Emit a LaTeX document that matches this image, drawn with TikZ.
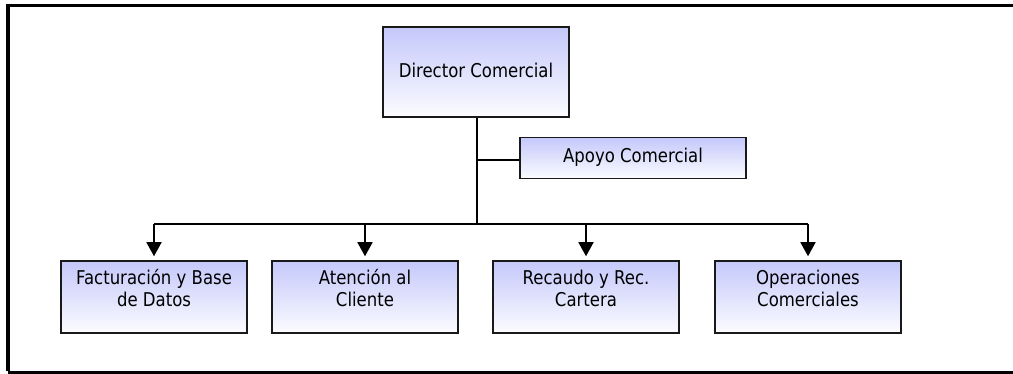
\documentclass[tikz,border=0pt]{standalone}
\usepackage{fontspec}
\setmainfont{DejaVu Sans}[FakeStretch=0.87]
\usetikzlibrary{arrows.meta}
\definecolor{boxtop}{RGB}{196,200,250}
\definecolor{boxbot}{RGB}{252,252,255}
\begin{document}
\begin{tikzpicture}[x=1pt,y=-1pt,
  orgbox/.style={draw=black!90, line width=1.5pt, top color=boxtop,
    bottom color=boxbot, inner sep=0pt},
  lbl/.style={font=\fontsize{19}{22}\selectfont, align=center,
    inner sep=0pt, anchor=base},
  link/.style={line width=1.6pt},
  down/.style={link, -{Triangle[width=15pt,length=14pt]}}]
  \useasboundingbox (0,0) rectangle (1013,374);
  \clip (0,0) rectangle (1013,374);

  % outer frame
  \fill[white] (0,0) rectangle (1013,374);
  \draw[line width=3.4pt] (6,5.6) -- (1013,5.6);
  \draw[line width=4pt] (8,4) -- (8,371);
  \draw[line width=3.2pt] (8,372.6) -- (1013,372.6);

  % boxes
  \node[orgbox, minimum width=186pt, minimum height=90pt] (dir) at (476,72) {};
  \node[orgbox, minimum width=226pt, minimum height=41pt] (apo) at (633,158) {};
  \node[orgbox, minimum width=186pt, minimum height=72pt] (fac) at (154,297) {};
  \node[orgbox, minimum width=186pt, minimum height=72pt] (ate) at (365,297) {};
  \node[orgbox, minimum width=186pt, minimum height=72pt] (rec) at (586,297) {};
  \node[orgbox, minimum width=186pt, minimum height=72pt] (ope) at (808,297) {};

  % labels (two-line labels are placed by the baseline of their last line)
  \node[lbl] (tdir) at (476,78) {Director Comercial};
  \node[lbl] (tapo) at (633,163) {Apoyo Comercial};
  \node[lbl] (tfac) at (154,307) {Facturación y Base\\de Datos};
  \node[lbl] (tate) at (365,307) {Atención al\\Cliente};
  \node[lbl] (trec) at (586,307) {Recaudo y Rec.\\Cartera};
  \node[lbl] (tope) at (808,307) {Operaciones\\Comerciales};

  % connectors
  \coordinate (bus) at (477,224);
  \draw[link] (dir.south -| bus) -- (bus);
  \draw[link] (apo.west |- 0,160) -- (477,160);
  \draw[link] (fac.north |- bus) -- (ope.north |- bus);
  \draw[down] (fac.north |- bus) -- ([yshift=4pt]fac.north);
  \draw[down] (ate.north |- bus) -- ([yshift=4pt]ate.north);
  \draw[down] (rec.north |- bus) -- ([yshift=4pt]rec.north);
  \draw[down] (ope.north |- bus) -- ([yshift=4pt]ope.north);
\end{tikzpicture}
\end{document}
